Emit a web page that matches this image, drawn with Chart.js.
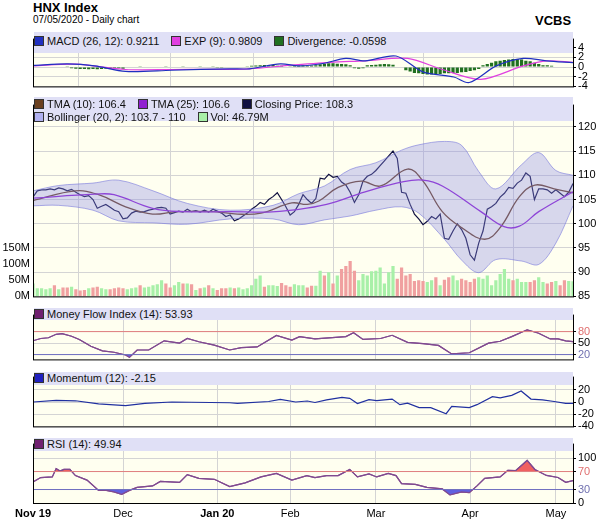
<!DOCTYPE html>
<html><head><meta charset="utf-8">
<script src="https://cdn.jsdelivr.net/npm/chart.js@4"></script>
<style>
body{margin:0;background:#fff;font-family:"Liberation Sans",Arial,sans-serif;}
#wrap{position:relative;width:601px;height:521px;overflow:hidden;}
canvas{position:absolute;left:0;}
.band{position:absolute;left:34px;width:539px;background:#e0e0f6;font-size:11px;color:#111;line-height:13px;}
.band span{margin-right:12px;white-space:nowrap;}
.sq{display:inline-block;width:8px;height:8px;border:1px solid #333;margin-right:3px;vertical-align:-1px;}
.t{position:absolute;}
</style></head><body>
<div id="wrap">
<div class="t" style="left:33px;top:0px;font-weight:bold;font-size:13px;">HNX Index</div>
<div class="t" style="left:33px;top:14px;font-size:10px;">07/05/2020 - Daily chart</div>
<div class="t" style="left:535px;top:13px;font-weight:bold;font-size:13px;">VCBS</div>
<canvas id="c1"></canvas><canvas id="c2"></canvas><canvas id="c3"></canvas><canvas id="c4"></canvas><canvas id="c5"></canvas>
<div class="band" style="top:32px;height:18px;padding-top:3px;"><span><i class="sq" style="background:#2030c0"></i>MACD (26, 12): 0.9211</span><span><i class="sq" style="background:#e040e0"></i>EXP (9): 0.9809</span><span><i class="sq" style="background:#207020"></i>Divergence: -0.0598</span></div>
<div class="band" style="top:97px;height:23px;padding-top:1px;"><span><i class="sq" style="background:#6b4020"></i>TMA (10): 106.4</span><span><i class="sq" style="background:#9020d0"></i>TMA (25): 106.6</span><span><i class="sq" style="background:#101040"></i>Closing Price: 108.3</span><br><span><i class="sq" style="background:#b0b0f0"></i>Bollinger (20, 2): 103.7 - 110</span><span><i class="sq" style="background:#a8f0a8"></i>Vol: 46.79M</span></div>
<div class="band" style="top:308px;height:12px;"><span><i class="sq" style="background:#702070"></i>Money Flow Index (14): 53.93</span></div>
<div class="band" style="top:372px;height:13px;"><span><i class="sq" style="background:#2020c0"></i>Momentum (12): -2.15</span></div>
<div class="band" style="top:438px;height:13px;"><span><i class="sq" style="background:#702070"></i>RSI (14): 49.94</span></div>
</div>
<script>
const monthTicks=[0,21,43,60,80,102,122];
const monthLabels=["Nov 19","Dec","Jan 20","Feb","Mar","Apr","May"];
const closePrice=[105.5,106.8,107,107,107.2,107,107.4,107.2,106.8,107.1,106.5,106,105.6,105.8,105,103.2,103.6,104,103.4,102.8,102.5,101,101.2,102.2,102.6,102.4,102.5,102.8,103,103.3,103.4,103.2,102,102.3,102.6,102.4,103,102.5,102.7,102.4,102.8,102.4,103,102.6,102.2,101.5,101.8,100.6,101,101.6,102.2,103,103.6,104.4,104,105,105.6,106.4,105,103.5,101.8,102.5,104,106,105,104.2,105.2,109.4,109.2,110.2,109.6,109.8,108.6,108,106.5,104.4,106,108.8,109.8,110.2,111,112,113,114,115,113.5,106.5,106.3,104,102,101,99.8,100.5,101.5,101,102,97,96.8,98.5,100,98.8,97,93.6,92.5,96,98.5,103,103.5,104.2,105.5,106.3,107.5,107.3,108.4,109,110.5,109.8,105,107.2,107.2,107,106.3,107,106.3,105.6,106.5,108.3];
const volume=[40,25,25,22,25,35,22,28,28,30,22,18,20,25,28,30,25,22,22,25,28,25,22,25,28,35,28,30,35,38,50,40,28,35,45,40,40,38,20,25,28,35,25,20,25,25,28,25,28,22,25,35,55,65,30,35,35,32,42,35,30,38,35,35,28,33,33,80,65,75,40,65,85,95,110,80,50,70,65,78,80,90,40,75,95,55,90,65,70,48,50,48,45,50,60,35,52,60,65,50,55,50,45,55,60,55,65,35,50,70,85,55,50,55,45,45,45,50,60,45,40,45,48,35,50,48,47];
const tma10X=[0,9.9,15.3,21.6,27.9,33.3,42.3,47.7,53.2,60.4,64,66.7,71.2,76.6,81.1,87.4,91,95.5,100,105.4,109,113.5,117.1,121.6,126];
const tma10=[104.8,106.8,106,103.5,102,102.5,102.5,102,102.2,104.3,104,104.7,107.5,108.8,107.8,111.3,108.8,102.5,99.2,96.8,99.2,105.6,108,107.2,106.4];
const tma25X=[0,14.4,18.9,27.9,35.1,45.9,54.9,60.4,68.5,77.5,86.5,91,95.5,104.5,109.9,113.5,118,126];
const tma25=[105.3,106.1,106,103.2,102.5,102.5,102.4,102.8,104,106.6,108.7,109,107.8,102.5,99.4,99.5,102.5,106.6];
const bbX=[0,6,14,20,28,36,46,56,62,68,74,80,86,90,96,100,104,108,114,118,122,126];
const bbUpper=[106.8,107.9,108.4,109,106.8,104.2,102.8,103.8,106.2,107.8,111.2,112.6,115.2,116.3,117,116.2,110.8,107.2,112.2,114.7,111,110];
const bbLower=[103.7,103.8,102.8,100.6,100.2,99.9,101,101,99.8,100.8,101.6,102.8,103.5,102.2,96.8,92.5,89.9,92.6,92.3,91.6,96,103.7];
const macdX=[0,8.1,14.4,21.6,32.4,45.9,50.5,57.7,62.2,67.6,73,77.5,84.7,91,98.2,101.8,108.1,114.4,119.8,126];
const macd=[0.35,0.65,0.25,-0.9,-0.65,-0.35,-0.35,0.65,0.25,0.75,1.8,1.3,2.3,-1,-2.05,-3.2,0.25,1.8,1.3,0.92];
const expX=[0,9.9,21.6,32.4,50.5,59.5,69.4,77.5,87.4,95.5,104.5,114.4,119.8,126];
const expSig=[0.25,0.6,-0.5,-0.5,-0.35,0.35,1.0,1.3,1.8,-0.5,-2.55,0.25,1.3,0.98];
const divergence=[0.13,0.13,0.13,0.15,0.13,0.13,0.1,0.13,0.07,-0.26,-0.33,-0.4,-0.4,-0.45,-0.4,-0.45,-0.4,-0.33,-0.4,-0.26,-0.26,-0.33,0.13,0.13,0.13,0.07,0.13,0,0.13,0.13,0.13,0.07,0.13,0.13,0.13,0.07,0.13,0.13,0.13,0.07,0.13,0,0.07,-0.13,-0.13,0,0.13,0.13,0,0.13,0.07,0.26,0.33,0.4,0.45,0.4,0.45,0.26,0.26,0.13,0.2,0.26,0.33,0.4,0.26,0.33,0.4,0.6,0.7,0.8,0.8,0.7,0.65,0.6,0.4,-0.26,-0.33,-0.26,0.4,0.45,0.5,0.6,0.65,0.6,0.5,0,0,-0.65,-0.9,-1.2,-1.3,-1.45,-1.55,-1.55,-1.45,-1.45,-1.3,-1.3,-1.2,-1.2,-1.05,-1.0,-0.8,-0.65,-0.4,0.4,0.65,0.9,1.2,1.3,1.45,1.55,1.7,1.7,1.55,1.3,1.2,0.9,0.65,0.4,0.4,0.26,0.13,-0.06,-0.06,-0.06,-0.06];
const mfiX=[0,1.8,3.6,5.4,6.8,9,10.8,13.5,16.2,18.9,21.6,22.5,24.3,27,30.6,34.2,36,38.7,42.3,45.9,48.6,52.3,56.8,60.4,62.2,65.8,73,74.8,77,81.1,83.8,87.4,91,94.6,97.7,101.8,106.3,109,111.7,115.3,118,120.7,122.5,124.3,126];
const mfi=[56,62,64,73,74.6,68,59.6,41.6,29.6,26,18.8,12.8,32,32,56,50,62,53.6,44.6,32,38,40,69.8,57.8,66.8,60.8,66.8,77,59.6,62,70.4,51.8,48.8,44,21.8,24.8,50,54.8,66.8,84.8,75.8,60.8,60.8,56,54];
const momX=[0,5.4,9.9,15.3,21.6,26.1,32.4,45.9,47.7,55,57.7,61.3,64,65.8,68.5,72.1,73.9,75.7,78.4,80.2,83.8,85.6,87.4,90.1,92.8,96.4,97.7,101.8,103.6,107.2,109,111.7,113.9,116.2,118.9,121.6,124.3,126];
const momentum=[0,2.8,2,-3.2,-6,-2.4,0,-1.2,-2.4,0.8,4.4,0,1.6,-0.8,3.6,7.6,6,-2.4,4,2.4,4.8,-4.4,-2,-9.2,-9.2,-19.2,-7.2,-9.2,-4.4,8.8,6.8,10.8,18,4.8,3.6,0.8,-2.4,-2.15];
const rsiX=[0,1.8,4.5,5.4,6.3,7.2,8.6,9.9,12.6,15.3,17.1,18.9,20.7,22.5,24.3,27.9,29.7,34.2,36,38.7,42.3,45.9,49.5,53.2,56.8,60.4,63.9,65.8,68.5,71.2,73.9,75.7,78.4,80.2,82.9,84.7,86,89.2,91.9,95.5,97.3,100,101.8,103.6,105.4,109,110.8,112.6,115.3,117.1,119.8,122.5,124.3,126];
const rsi=[46.7,56.7,58,76.7,71,74.7,74.7,61,51,28,28,24.7,19.3,28,34.7,38,48,46,63.3,54.7,52.7,36.7,44.7,58,66,51,61,56.7,61,61,74.7,58,64.7,58,66,61,43.3,41.3,34.7,31.3,18,24.7,23,38,54.7,58,72.7,72,94.7,74.7,61.3,56.7,46,50];

const pts=(xs,ys)=>xs.map((x,i)=>({x,y:ys[i]}));
const idx=a=>a.map((y,i)=>({x:i,y}));
const GRID='#d4d4d4';
const border={id:'border',afterDraw(c){const a=c.chartArea,g=c.ctx;g.save();g.strokeStyle='#000';g.lineWidth=1;g.strokeRect(a.left+0.5,a.top+0.5,a.right-a.left,a.bottom-a.top);g.fillStyle='#000';g.fillRect(a.left,a.top-1,a.right-a.left+1,2);g.restore();}};
const bg={id:'bg',beforeDraw(c){const a=c.chartArea,g=c.ctx;g.save();g.fillStyle='#fffff0';g.fillRect(a.left,a.top,a.right-a.left,a.bottom-a.top);g.restore();}};
function xScale(show){return {type:'linear',min:0,max:126,offset:false,
  afterBuildTicks(s){s.ticks=monthTicks.map(v=>({value:v}));},
  afterFit(s){s.height=show?18:0;},
  grid:{color:GRID,drawTicks:false},border:{display:false},
  ticks:{display:show,padding:4,color:'#000',maxRotation:0,autoSkip:false,
    font:c=>({family:'Liberation Sans',size:11,weight:(c.index===0||c.index===2)?'bold':'normal'}),
    callback:(v,i)=>monthLabels[i]}};}
function yScale(min,max,ticks,colorFn,extra){return Object.assign({position:'right',min,max,
  afterBuildTicks(s){s.ticks=ticks.map(v=>({value:v}));},afterFit(s){s.width=28;},
  grid:{color:GRID,tickLength:3,tickColor:'#000'},border:{display:true,color:'#000'},
  ticks:{padding:2,color:colorFn||'#000',font:{family:'Liberation Sans',size:11},autoSkip:false}},extra||{});}
function mk(id,top,h,datasets,scales,padLeft,showX){
  const cv=document.getElementById(id);cv.style.top=top+'px';cv.width=601;cv.height=h;cv.style.width='601px';cv.style.height=h+'px';
  return new Chart(cv,{type:'line',data:{datasets},options:{responsive:false,animation:false,
    layout:{padding:{left:padLeft,right:0,top:0,bottom:0}},
    plugins:{legend:{display:false},tooltip:{enabled:false}},
    elements:{point:{radius:0}},scales},plugins:[bg,border]});}
const line=(data,color,w,extra)=>Object.assign({data,borderColor:color,borderWidth:w||1.2,pointRadius:0,fill:false},extra||{});

mk('c1',31,64,[
  line(pts(macdX,macd),'#2030c0',1.2,{tension:0.3}),
  line(pts(expX,expSig),'#e040e0',1.2,{tension:0.3}),
  {type:'bar',data:idx(divergence),backgroundColor:'#207020',barPercentage:0.75,categoryPercentage:1}
],{x:xScale(false),y:yScale(-4,5.7,[-4,-2,0,2,4])},33,false);

const volColors=volume.map((v,i)=>i>0&&closePrice[i]<closePrice[i-1]?'#f0a0a0':'#a8f0a8');
mk('c2',96,210,[
  line(pts(bbX,bbUpper),'rgba(120,120,220,0.6)',1,{tension:0.35,yAxisID:'y'}),
  line(pts(bbX,bbLower),'rgba(120,120,220,0.6)',1,{tension:0.35,yAxisID:'y',fill:'-1',backgroundColor:'rgba(140,140,230,0.35)'}),
  line(pts(tma25X,tma25),'#9020d0',1.3,{tension:0.4,yAxisID:'y'}),
  line(pts(tma10X,tma10),'#6b4020',1.3,{tension:0.4,yAxisID:'y'}),
  line(idx(closePrice),'#101040',1.2,{yAxisID:'y'}),
  {type:'bar',data:idx(volume),yAxisID:'v',backgroundColor:volColors,barPercentage:0.75,categoryPercentage:1}
],{x:xScale(false),y:yScale(85,124.4,[85,90,95,100,105,110,115,120]),
  v:{position:'left',min:0,max:594,afterBuildTicks(s){s.ticks=[0,50,100,150].map(v=>({value:v}));},afterFit(s){s.width=33;},
    grid:{display:false,drawTicks:false},border:{display:false},ticks:{padding:3,color:'#000',font:{family:'Liberation Sans',size:11},callback:v=>v+'M'}}},0,false);

const refLine=(v,c)=>line([{x:0,y:v},{x:126,y:v}],c,1);
mk('c3',307,61,[
  refLine(80,'#e08080'),refLine(20,'#7070c0'),
  line(pts(mfiX,mfi),'#804a90',1.2,{fill:{target:{value:20},above:'rgba(0,0,0,0)',below:'#6060e0'}}),
  line(pts(mfiX,mfi),'#804a90',1.2,{fill:{target:{value:80},above:'#f07070',below:'rgba(0,0,0,0)'}})
],{x:xScale(false),y:yScale(7.4,121.8,[20,50,80],c=>c.tick.value===80?'#e07070':(c.tick.value===20?'#7070b0':'#000'))},33,false);

mk('c4',369,66,[
  line(pts(momX,momentum),'#2030a0',1.2)
],{x:xScale(false),y:yScale(-40,40,[-40,-20,0,20])},33,false);

mk('c5',436,85,[
  refLine(70,'#e08080'),refLine(30,'#7070c0'),
  line(pts(rsiX,rsi),'#804a90',1.2,{fill:{target:{value:30},above:'rgba(0,0,0,0)',below:'#6060e0'}}),
  line(pts(rsiX,rsi),'#804a90',1.2,{fill:{target:{value:70},above:'#f06060',below:'rgba(0,0,0,0)'}})
],{x:xScale(true),y:yScale(0,130,[0,30,70,100],c=>c.tick.value===70?'#e07070':(c.tick.value===30?'#7070b0':'#000'))},33,true);
</script></body></html>
